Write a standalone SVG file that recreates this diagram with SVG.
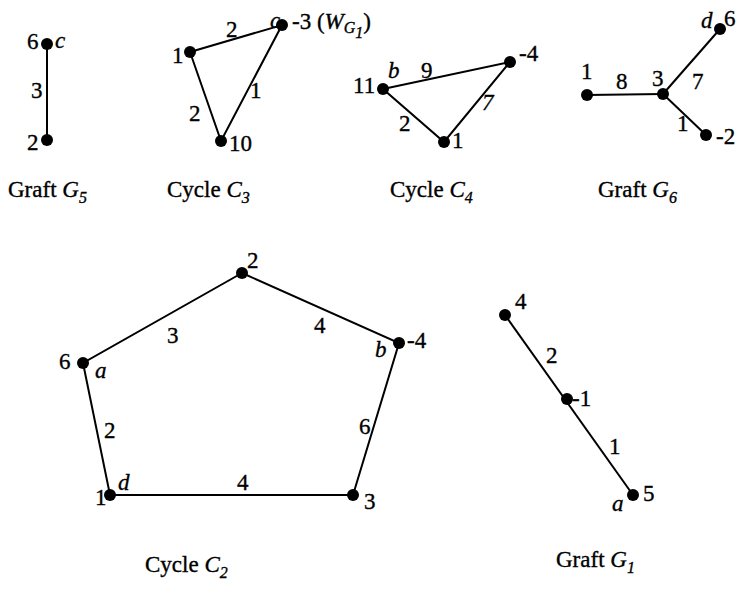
<svg xmlns="http://www.w3.org/2000/svg" width="736" height="589" viewBox="0 0 736 589">
<style>
text{font-family:"Liberation Serif","Times New Roman",serif;font-size:23px;fill:#000;stroke:#000;stroke-width:0.35}
.i{font-style:italic}
.s{font-size:16px;font-style:italic}
.e{stroke:#000;stroke-width:2;fill:none}
.n{fill:#000}
</style>
<rect width="736" height="589" fill="#fff"/>
<g id="connectors">
<line class="e" x1="47" y1="44" x2="47" y2="140"/>
<polygon class="e" points="190,52 282,25 221,141"/>
<polygon class="e" points="383,89 510,62 444,142"/>
<line class="e" x1="587" y1="95" x2="663" y2="94"/>
<line class="e" x1="663" y1="94" x2="720" y2="29"/>
<line class="e" x1="663" y1="94" x2="706" y2="135"/>
<polygon class="e" points="242,273 399,343 353,495 110,495 83,363"/>
<line class="e" x1="505" y1="315" x2="633" y2="495"/>
</g>
<g id="edge-labels">
<text x="31" y="98">3</text>
<text x="226" y="37">2</text>
<text x="189" y="121">2</text>
<text x="250" y="98">1</text>
<text x="421" y="78">9</text>
<text x="482" y="110" class="i">7</text>
<text x="399" y="131">2</text>
<text x="616" y="89">8</text>
<text x="692" y="89">7</text>
<text x="677" y="131">1</text>
<text x="167" y="343">3</text>
<text x="314" y="333">4</text>
<text x="104" y="438">2</text>
<text x="359" y="434">6</text>
<text x="237" y="490">4</text>
<text x="546" y="363">2</text>
<text x="609" y="454">1</text>
</g>
<g id="G5">
<circle class="n" cx="47" cy="44" r="6"/>
<circle class="n" cx="47" cy="140" r="6"/>
<text x="27" y="49">6</text>
<text x="55" y="48" class="i">c</text>
<text x="27" y="150">2</text>
<text x="8" y="197">Graft <tspan class="i">G</tspan><tspan class="s" dy="6">5</tspan></text>
</g>
<g id="C3">
<circle class="n" cx="190" cy="52" r="6"/>
<circle class="n" cx="282" cy="25" r="6"/>
<circle class="n" cx="221" cy="141" r="6"/>
<text x="172" y="63">1</text>
<text x="270" y="28" class="i">c</text>
<text x="292" y="29">-3 (<tspan class="i">W</tspan><tspan class="s" dy="4">G</tspan><tspan class="s" font-size="12" dy="5">1</tspan><tspan dy="-9">)</tspan></text>
<text x="229" y="151">10</text>
<text x="167" y="197">Cycle  <tspan class="i">C</tspan><tspan class="s" dy="6">3</tspan></text>
</g>
<g id="C4">
<circle class="n" cx="383" cy="89" r="6"/>
<circle class="n" cx="510" cy="62" r="6"/>
<circle class="n" cx="444" cy="142" r="6"/>
<text x="353" y="93">11</text>
<text x="388" y="78" class="i">b</text>
<text x="519" y="61">-4</text>
<text x="452" y="148">1</text>
<text x="390" y="197">Cycle  <tspan class="i">C</tspan><tspan class="s" dy="6">4</tspan></text>
</g>
<g id="G6">
<circle class="n" cx="587" cy="95" r="6"/>
<circle class="n" cx="663" cy="94" r="6"/>
<circle class="n" cx="720" cy="29" r="6"/>
<circle class="n" cx="706" cy="135" r="6"/>
<text x="581" y="79">1</text>
<text x="652" y="86">3</text>
<text x="701" y="28" class="i">d</text>
<text x="724" y="26">6</text>
<text x="716" y="144">-2</text>
<text x="598" y="197">Graft <tspan class="i">G</tspan><tspan class="s" dy="6">6</tspan></text>
</g>
<g id="C2">
<circle class="n" cx="242" cy="273" r="6"/>
<circle class="n" cx="399" cy="343" r="6"/>
<circle class="n" cx="353" cy="495" r="6"/>
<circle class="n" cx="110" cy="495" r="6"/>
<circle class="n" cx="83" cy="363" r="6"/>
<text x="247" y="268">2</text>
<text x="407" y="348">-4</text>
<text x="375" y="357" class="i">b</text>
<text x="59" y="369">6</text>
<text x="95" y="378" class="i">a</text>
<text x="118" y="490" class="i">d</text>
<text x="95" y="505">1</text>
<text x="364" y="509">3</text>
<text x="145" y="572">Cycle  <tspan class="i">C</tspan><tspan class="s" dy="6">2</tspan></text>
</g>
<g id="G1">
<circle class="n" cx="505" cy="315" r="6"/>
<circle class="n" cx="567" cy="399" r="6"/>
<circle class="n" cx="633" cy="495" r="6"/>
<text x="515" y="309">4</text>
<text x="572" y="406">-1</text>
<text x="643" y="501">5</text>
<text x="612" y="511" class="i">a</text>
<text x="556" y="567">Graft <tspan class="i">G</tspan><tspan class="s" dy="6">1</tspan></text>
</g>
</svg>
